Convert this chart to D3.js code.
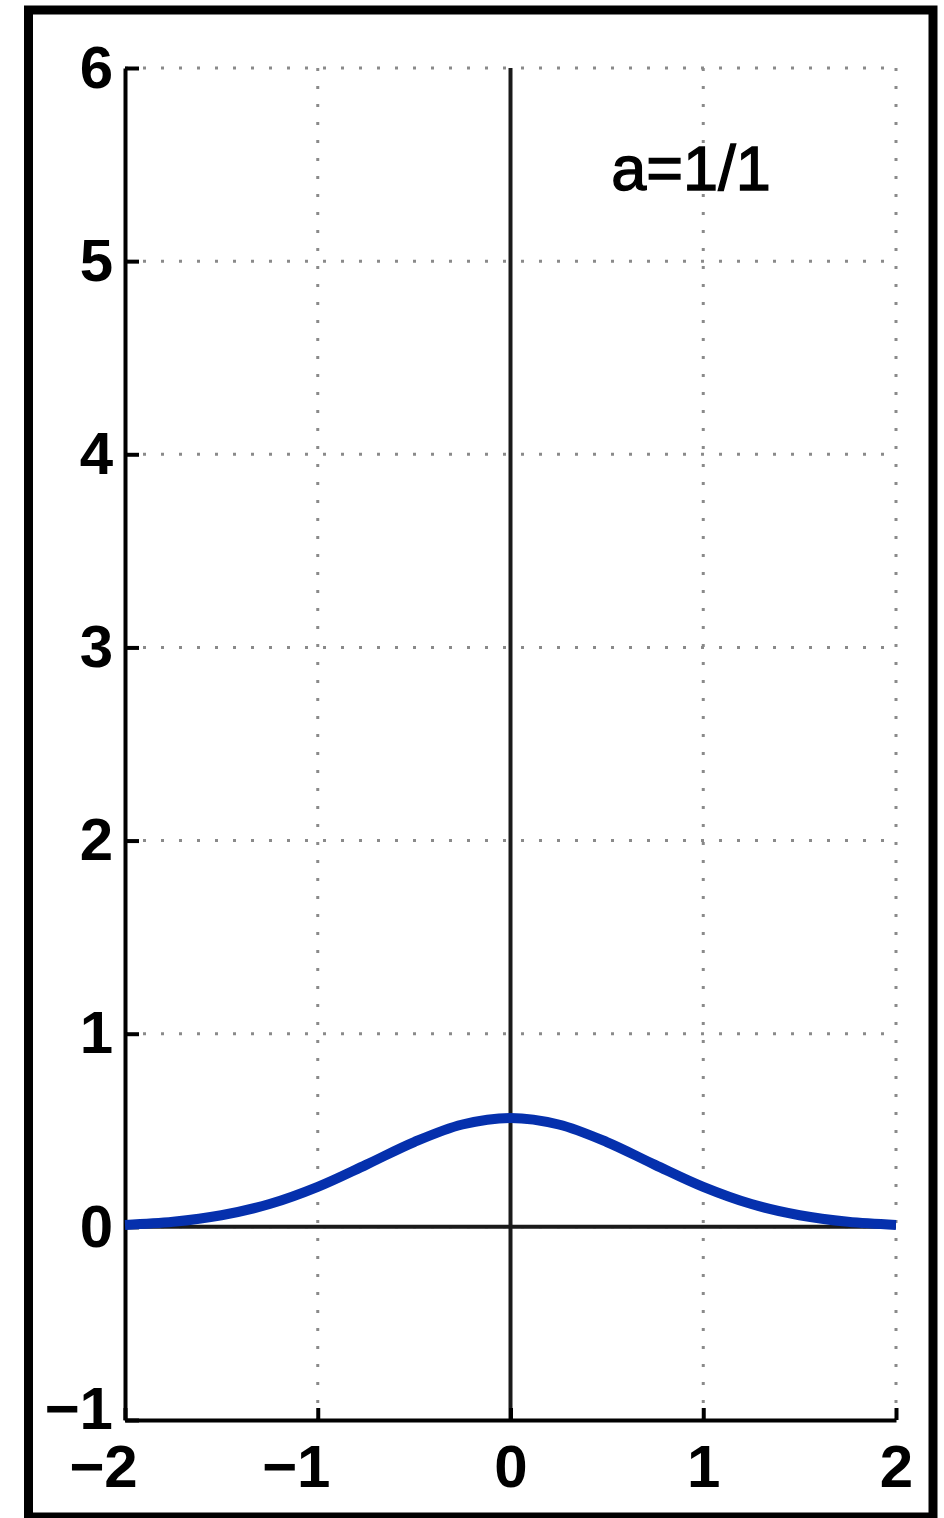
<!DOCTYPE html>
<html>
<head>
<meta charset="utf-8">
<script src="https://cdn.jsdelivr.net/npm/d3@7"></script>
<style>
  body { margin: 0; background: #fff; }
  svg { display: block; }
  .tick text { font-family: "Liberation Sans", Arial, sans-serif; fill: #000; }
</style>
</head>
<body>
<div id="chart"></div>
<script>
const width = 944;
const height = 1518;

// curve
const xValues = [-2, -1.75, -1.5, -1.25, -1, -0.75, -0.5, -0.25, 0, 0.25, 0.5, 0.75, 1, 1.25, 1.5, 1.75, 2];
const yValues = [0.01, 0.026, 0.06, 0.118, 0.207, 0.321, 0.439, 0.53, 0.564, 0.53, 0.439, 0.321, 0.207, 0.118, 0.06, 0.026, 0.01];
const xTicks = [-2, -1, 0, 1, 2];
const yTicks = [-1, 0, 1, 2, 3, 4, 5, 6];
const label = "a=1/1";

const data = xValues.map((v, i) => ({ x: v, y: yValues[i] }));

const svg = d3
  .select("#chart")
  .append("svg")
  .attr("width", width)
  .attr("height", height);

const x = d3.scaleLinear().domain([-2, 2]).range([125, 896]);
const y = d3.scaleLinear().domain([-1, 6]).range([1420, 68]);

// dotted grid
const grid = svg.append("g")
  .attr("stroke", "#8a8a8a")
  .attr("stroke-width", 3)
  .attr("stroke-dasharray", "3,15");

grid.selectAll("line.gx")
  .data(xTicks.filter(d => d !== -2))
  .enter()
  .append("line")
  .attr("x1", d => x(d))
  .attr("x2", d => x(d))
  .attr("y1", y(6))
  .attr("y2", y(-1));

grid.selectAll("line.gy")
  .data(yTicks.filter(d => d !== -1))
  .enter()
  .append("line")
  .attr("x1", x(-2))
  .attr("x2", x(2))
  .attr("y1", d => y(d))
  .attr("y2", d => y(d));

// zero lines
svg.append("line")
  .attr("x1", x(0)).attr("x2", x(0))
  .attr("y1", y(6)).attr("y2", y(-1))
  .attr("stroke", "#1a1a1a").attr("stroke-width", 4);

svg.append("line")
  .attr("x1", x(-2)).attr("x2", x(2))
  .attr("y1", y(0)).attr("y2", y(0))
  .attr("stroke", "#1a1a1a").attr("stroke-width", 4);

// axes
const yAxis = d3.axisLeft(y)
  .tickValues(yTicks)
  .tickFormat(d3.format("d"))
  .tickSizeInner(-14)
  .tickSizeOuter(0)
  .tickPadding(12);

const xAxis = d3.axisBottom(x)
  .tickValues(xTicks)
  .tickFormat(d3.format("d"))
  .tickSizeInner(-12)
  .tickSizeOuter(0)
  .tickPadding(24);

const gy = svg.append("g")
  .attr("transform", `translate(${x(-2)},0)`)
  .call(yAxis);

const gx = svg.append("g")
  .attr("transform", `translate(0,${y(-1)})`)
  .call(xAxis);

[gx, gy].forEach(g => {
  g.select(".domain").attr("stroke", "#000").attr("stroke-width", 4);
  g.selectAll(".tick line").attr("stroke", "#000").attr("stroke-width", 4);
  g.selectAll(".tick text")
    .attr("font-size", 60)
    .attr("font-weight", "bold");
});

gx.selectAll(".tick text")
  .attr("x", d => (d < 0 ? -22 : 0));

// lift the bottom y label a little so it clears the x labels
gy.selectAll(".tick text")
  .filter(d => d === -1)
  .attr("y", -11);

// curve
const line = d3.line()
  .x(d => x(d.x))
  .y(d => y(d.y))
  .curve(d3.curveCatmullRom);

svg.append("path")
  .datum(data)
  .attr("fill", "none")
  .attr("stroke", "#0530ad")
  .attr("stroke-width", 10)
  .attr("d", line);

// label
svg.append("text")
  .attr("x", 691)
  .attr("y", 190)
  .attr("text-anchor", "middle")
  .attr("font-family", "Liberation Sans, Arial, sans-serif")
  .attr("font-size", 63)
  .attr("stroke", "#000")
  .attr("stroke-width", 1.4)
  .text(label);

// outer frame
svg.append("rect")
  .attr("x", 28.5)
  .attr("y", 10)
  .attr("width", 904.5)
  .attr("height", 1507)
  .attr("fill", "none")
  .attr("stroke", "#000")
  .attr("stroke-width", 9);
</script>
</body>
</html>
